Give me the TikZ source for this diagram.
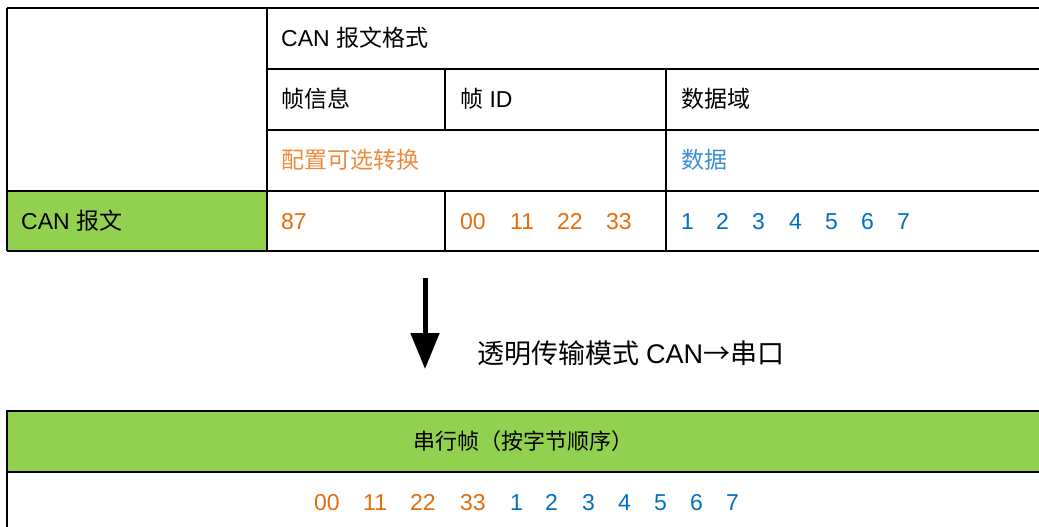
\documentclass[tikz,border=0pt]{standalone}
\usepackage{fontspec}
\setmainfont{Liberation Sans}
\newfontfamily\cjk{Noto Sans CJK SC}
\usetikzlibrary{arrows.meta}
\definecolor{cgreen}{RGB}{146,208,80}
\definecolor{corange}{RGB}{228,108,10}
\definecolor{clorange}{RGB}{238,138,60}
\definecolor{cblue}{RGB}{0,112,192}
\definecolor{clblue}{RGB}{60,141,214}
\begin{document}
\begin{tikzpicture}[x=1pt,y=-1pt,
  grid/.style={line width=2.2pt,black},
  lbl/.style={anchor=base west,inner sep=0pt,font=\fontsize{23}{27}\selectfont},
  num/.style={lbl,text=corange},
  bnum/.style={lbl,text=cblue}]
\useasboundingbox (0,0) rectangle (1039,527);
\clip (0,0) rectangle (1039,527);
% top table
\fill[cgreen] (7,191) rectangle (267,251);
\draw[grid] (7,8) -- (1045,8);
\draw[grid] (267,69) -- (1045,69);
\draw[grid] (267,130) -- (1045,130);
\draw[grid] (7,191) -- (1045,191);
\draw[grid] (7,251) -- (1045,251);
\draw[grid] (7,8) -- (7,251);
\draw[grid] (267,8) -- (267,251);
\draw[grid] (445,69) -- (445,130);
\draw[grid] (445,191) -- (445,251);
\draw[grid] (666,69) -- (666,251);
% texts top
\node[lbl] (fmt) at (281,46.5) {CAN {\cjk 报文格式}};
\node[lbl] (info) at (281,107.5) {\cjk 帧信息};
\node[lbl] (fid) at (460,107.5) {{\cjk 帧} ID};
\node[lbl] (dom) at (681,107.5) {\cjk 数据域};
\node[lbl,text=clorange] (cfg) at (281,168.5) {\cjk 配置可选转换};
\node[lbl,text=clblue] (dat) at (681,168.5) {\cjk 数据};
\node[lbl] (canmsg) at (21,229.5) {CAN {\cjk 报文}};
\node[num] (n87) at (281,229.5) {87};
\foreach \x/\t [count=\i] in {460/00,510/11,557/22,606/33}
  \node[num] (id\i) at (\x,229.5) {\t};
\foreach \x/\t [count=\i] in {681/1,716/2,752/3,789/4,825/5,861/6,897/7}
  \node[bnum] (d\i) at (\x,229.5) {\t};
% arrow
\coordinate (as) at (425,278);
\coordinate (ae) at (425,369);
\draw[line width=5pt,-{Triangle[width=28pt,length=36pt]}] (as) -- (ae);
\node[anchor=base west,inner sep=0pt,font=\fontsize{27}{32}\selectfont] (mode) at (477,363) {{\cjk 透明传输模式}\hspace{7pt}CAN{\cjk →串口}};
% bottom table
\fill[cgreen] (7,411) rectangle (1045,472);
\draw[grid] (1045,411) -- (7,411) -- (7,540);
\draw[grid] (7,472) -- (1045,472);
\node[anchor=base,inner sep=0pt,font=\fontsize{22}{26}\selectfont] (serial) at (523,449) {\cjk 串行帧（按字节顺序）};
\foreach \x/\t [count=\i] in {314/00,363/11,410/22,460/33}
  \node[num] (sid\i) at (\x,510.5) {\t};
\foreach \x/\t [count=\i] in {510/1,545/2,582/3,618/4,654/5,690/6,726/7}
  \node[bnum] (sd\i) at (\x,510.5) {\t};
\end{tikzpicture}
\end{document}
